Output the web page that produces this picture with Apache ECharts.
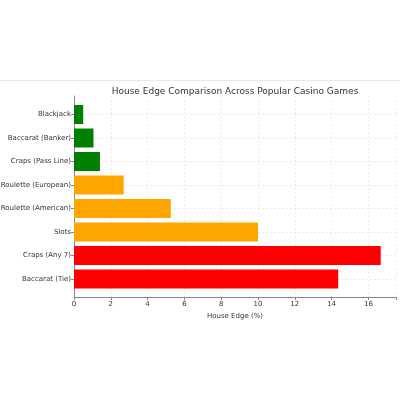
<!DOCTYPE html>
<html><head><meta charset="utf-8">
<script src="https://cdn.jsdelivr.net/npm/echarts@6/dist/echarts.min.js"></script>
<style>html,body{margin:0;padding:0;background:#fff}#c{width:400px;height:400px}</style>
</head><body><div id="c"></div>
<script>
const games = ["Blackjack","Baccarat (Banker)","Craps (Pass Line)","Roulette (European)","Roulette (American)","Slots","Craps (Any 7)","Baccarat (Tie)"];
const houseEdge = [0.5, 1.06, 1.41, 2.7, 5.26, 10, 16.67, 14.36];
const barColors = ["#008000","#008000","#008000","#FFA500","#FFA500","#FFA500","#FF0000","#FF0000"];
const xTicks = [0,2,4,6,8,10,12,14,16];
const xMax = 17.5;

const font = "DejaVu Sans";
const chart = echarts.init(document.getElementById('c'));
chart.setOption({
  animation: false,
  backgroundColor: '#fff',
  title: {
    text: 'House Edge Comparison Across Popular Casino Games',
    left: 230, top: 82, textAlign: 'center',
    textStyle: {fontFamily: font, fontSize: 9, fontWeight: 'normal', color: '#333'}
  },
  graphic: [{type:'line', shape:{x1:0,y1:80.5,x2:400,y2:80.5}, style:{stroke:'#e8e8e8', lineWidth:1}}],
  grid: [
    {left: 74, right: 4, top: 96, bottom: 103, outerBoundsMode:'none', containLabel:false},
    {left: 74, right: 4, top: 114.5, bottom: 121, outerBoundsMode:'none', containLabel:false}
  ],
  xAxis: [
    {gridIndex:0, type:'value', min:0, max:xMax, interval:2,
     name:'House Edge (%)', nameLocation:'middle', nameGap:14,
     nameTextStyle:{fontFamily:font, fontSize:7, color:'#333'},
     axisLine:{show:true, lineStyle:{color:'#888', width:1}},
     axisTick:{show:true, length:3, lineStyle:{color:'#888'}},
     axisLabel:{fontFamily:font, fontSize:7, color:'#333', margin:4,
       formatter: v => xTicks.includes(v) ? String(v) : ''},
     splitLine:{show:true, lineStyle:{color:'#e6e6e6', type:[2,2], width:0.8}}},
    {gridIndex:1, type:'value', min:0, max:xMax, show:false}
  ],
  yAxis: [
    {gridIndex:0, type:'value', min:0, max:1, show:true,
     axisLine:{show:true, lineStyle:{color:'#888', width:1}},
     axisTick:{show:false}, axisLabel:{show:false}, splitLine:{show:false}},
    {gridIndex:1, type:'category', data:games, inverse:true, boundaryGap:false,
     axisLine:{show:false},
     axisTick:{show:true, length:3, lineStyle:{color:'#888'}},
     axisLabel:{fontFamily:font, fontSize:7, color:'#333', margin:3},
     splitLine:{show:true, lineStyle:{color:'#e6e6e6', type:[2,2], width:0.8}}}
  ],
  series: [{
    type:'bar', xAxisIndex:1, yAxisIndex:1, barWidth:19,
    data: houseEdge.map((v,i)=>({value:v, itemStyle:{color:barColors[i]}})),
    z: 3
  }]
});
</script></body></html>
